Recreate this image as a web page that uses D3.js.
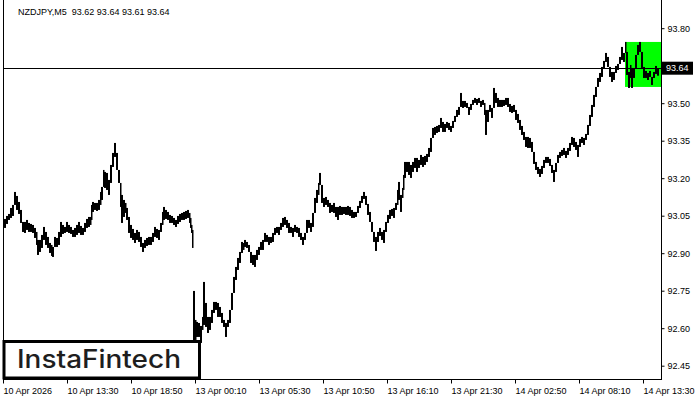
<!DOCTYPE html>
<html><head><meta charset="utf-8">
<script src="https://cdn.jsdelivr.net/npm/d3@7/dist/d3.min.js"></script>
<style>html,body{margin:0;padding:0;background:#fff;}svg{display:block;}</style>
</head><body><svg id="c" width="700" height="400"></svg>
<script>
// ---- data ----
const symbolTitle = "NZDJPY,M5  93.62 93.64 93.61 93.64";
const currentPrice = 93.64;
const yTickValues = [93.80, 93.50, 93.35, 93.20, 93.05, 92.90, 92.75, 92.60, 92.45];
const xTickIndex = [0, 64, 128, 192, 256, 320, 384, 448, 512, 576, 640];
const xTickLabels = ["10 Apr 2026","10 Apr 13:30","10 Apr 18:50","13 Apr 00:10","13 Apr 05:30","13 Apr 10:50","13 Apr 16:10","13 Apr 21:30","14 Apr 02:50","14 Apr 08:10","14 Apr 13:30"];
const sessionBreaks = [190];          // first bar after weekend gap
const zoneStartIndex = 622;           // green zone
const zoneHigh = 93.745, zoneLow = 93.565;
// [bar index, high, low]
const priceBars = [
[1,93.037,93.001],[3,93.049,93.017],[5,93.057,93.033],[7,93.081,93.041],[9,93.093,93.049],[11,93.145,93.093],[13,93.129,93.073],[15,93.105,93.057],[17,93.073,93.021],[19,93.025,92.985],
[21,93.025,92.981],[23,93.033,92.993],[25,93.021,92.985],[27,93.017,92.985],[29,93.013,92.981],[31,93.001,92.961],[33,92.985,92.933],[34,92.953,92.893],[36,92.953,92.905],[38,92.973,92.921],
[40,93.005,92.953],[42,92.985,92.933],[44,92.965,92.921],[46,92.941,92.901],[48,92.933,92.889],[49,92.925,92.885],[51,92.965,92.925],[53,92.961,92.925],[55,92.985,92.933],[57,93.025,92.965],
[59,93.013,92.977],[61,93.005,92.981],[63,93.025,92.985],[65,93.013,92.981],[67,93.005,92.977],[69,92.993,92.965],[71,93.001,92.965],[73,93.013,92.973],[75,93.025,92.981],[77,93.009,92.973],
[79,93.001,92.973],[81,93.021,92.985],[83,93.037,93.001],[85,93.045,93.005],[87,93.045,93.013],[88,93.093,93.033],[89,93.105,93.065],[91,93.101,93.073],[93,93.101,93.069],[95,93.113,93.073],
[97,93.145,93.093],[98,93.165,93.113],[100,93.233,93.173],[101,93.225,93.161],[103,93.221,93.153],[105,93.193,93.133],[107,93.253,93.181],[109,93.301,93.245],[111,93.341,93.285],[113,93.301,93.233],
[115,93.233,93.181],[117,93.181,93.085],[118,93.133,93.021],[120,93.113,93.045],[122,93.101,93.061],[123,93.081,93.033],[125,93.045,92.981],[127,93.013,92.961],[129,92.997,92.953],[131,92.981,92.941],
[133,92.993,92.953],[135,92.985,92.945],[137,92.965,92.925],[139,92.941,92.905],[141,92.953,92.921],[143,92.961,92.929],[145,92.965,92.933],[147,92.965,92.933],[149,92.981,92.945],[151,93.005,92.965],
[153,92.997,92.961],[155,92.993,92.953],[157,93.021,92.985],[159,93.065,93.013],[160,93.085,93.033],[162,93.073,93.037],[164,93.065,93.033],[166,93.053,93.021],[168,93.049,93.021],[170,93.041,93.013],
[172,93.033,93.005],[174,93.049,93.017],[176,93.057,93.025],[178,93.061,93.033],[180,93.065,93.033],[182,93.069,93.037],[184,93.073,93.041],[186,93.061,93.021],[187,93.041,93.001],[188,93.013,92.981],
[189,92.993,92.921],
[190,92.749,92.533],[192,92.633,92.553],[193,92.625,92.565],[195,92.621,92.565],[197,92.609,92.541],[199,92.645,92.593],[200,92.785,92.613],[202,92.701,92.605],[204,92.645,92.581],[206,92.645,92.593],
[208,92.673,92.621],[210,92.705,92.661],[212,92.705,92.673],[214,92.701,92.645],[216,92.685,92.645],[218,92.661,92.621],[220,92.633,92.605],[222,92.621,92.565],[224,92.633,92.605],[226,92.673,92.621],
[228,92.741,92.673],[230,92.805,92.745],[232,92.845,92.793],[234,92.881,92.833],[236,92.905,92.861],[238,92.945,92.901],[240,92.941,92.913],[241,92.953,92.925],[243,92.945,92.921],[245,92.933,92.905],
[247,92.901,92.861],[249,92.893,92.853],[251,92.893,92.845],[253,92.913,92.873],[255,92.925,92.893],[257,92.945,92.913],[259,92.953,92.913],[261,92.981,92.945],[263,92.973,92.945],[265,92.965,92.933],
[267,92.965,92.941],[269,92.981,92.945],[271,93.001,92.973],[273,93.005,92.981],[275,93.005,92.973],[277,93.021,92.993],[279,93.041,93.005],[281,93.045,93.013],[283,93.033,93.001],[285,93.021,92.981],
[287,93.005,92.981],[289,93.001,92.965],[291,93.013,92.985],[293,93.005,92.981],[295,93.001,92.965],[297,92.981,92.953],[299,92.965,92.933],[301,92.981,92.953],[303,93.033,93.001],[305,93.033,93.001],
[307,93.021,92.985],[309,93.061,93.005],[311,93.121,93.073],[313,93.153,93.101],[315,93.181,93.133],[316,93.221,93.173],[318,93.161,93.101],[320,93.121,93.085],[322,93.125,93.093],[324,93.113,93.085],
[326,93.101,93.061],[328,93.093,93.065],[330,93.101,93.061],[332,93.085,93.045],[334,93.085,93.033],[336,93.089,93.053],[338,93.085,93.053],[340,93.085,93.057],[342,93.085,93.053],[344,93.089,93.053],
[346,93.085,93.049],[348,93.073,93.041],[350,93.065,93.041],[352,93.065,93.045],[354,93.089,93.061],[356,93.109,93.081],[358,93.129,93.101],[360,93.145,93.117],[362,93.129,93.093],[364,93.097,93.053],
[366,93.065,93.025],[368,93.025,92.985],[370,92.985,92.945],[372,92.965,92.909],[374,92.985,92.945],[376,93.001,92.969],[378,92.985,92.953],[380,92.993,92.941],[382,93.025,92.985],[384,93.053,93.021],
[386,93.073,93.037],[388,93.077,93.049],[390,93.081,93.041],[392,93.101,93.073],[394,93.153,93.093],[395,93.185,93.113],[397,93.133,93.065],[399,93.161,93.121],[400,93.213,93.153],[401,93.265,93.201],
[403,93.265,93.225],[405,93.265,93.213],[407,93.253,93.201],[409,93.265,93.225],[411,93.281,93.241],[413,93.281,93.225],[415,93.273,93.241],[417,93.293,93.253],[419,93.285,93.245],[421,93.289,93.253],
[423,93.297,93.265],[425,93.321,93.285],[427,93.361,93.305],[429,93.401,93.361],[431,93.405,93.373],[433,93.409,93.381],[435,93.413,93.385],[437,93.441,93.401],[439,93.425,93.385],[441,93.417,93.385],
[443,93.425,93.401],[445,93.421,93.393],[447,93.409,93.385],[449,93.429,93.401],[451,93.449,93.425],[453,93.473,93.445],[455,93.485,93.453],[457,93.541,93.485],[459,93.509,93.481],[461,93.509,93.485],
[463,93.501,93.481],[465,93.485,93.453],[467,93.497,93.473],[469,93.513,93.493],[471,93.521,93.501],[473,93.517,93.493],[475,93.521,93.501],[477,93.509,93.485],[479,93.513,93.493],[481,93.501,93.453],
[482,93.473,93.373],[484,93.473,93.425],[486,93.493,93.465],[488,93.481,93.441],[490,93.561,93.513],[492,93.541,93.501],[494,93.521,93.485],[496,93.513,93.485],[498,93.513,93.485],[500,93.513,93.489],
[502,93.521,93.493],[504,93.521,93.485],[506,93.497,93.465],[508,93.489,93.461],[510,93.493,93.465],[512,93.473,93.433],[514,93.457,93.421],[516,93.433,93.393],[518,93.409,93.373],[520,93.385,93.353],
[522,93.365,93.325],[524,93.365,93.321],[526,93.361,93.321],[528,93.345,93.305],[530,93.305,93.257],[532,93.265,93.233],[534,93.245,93.217],[536,93.237,93.205],[538,93.249,93.217],[540,93.273,93.241],
[542,93.285,93.261],[544,93.285,93.261],[546,93.277,93.249],[548,93.253,93.221],[550,93.233,93.185],[552,93.261,93.225],[554,93.293,93.261],[556,93.305,93.281],[558,93.313,93.289],[560,93.321,93.293],
[562,93.309,93.281],[564,93.321,93.293],[566,93.341,93.309],[568,93.365,93.333],[570,93.361,93.325],[572,93.345,93.313],[574,93.333,93.285],[576,93.357,93.325],[578,93.365,93.341],[580,93.361,93.333],
[582,93.377,93.353],[584,93.413,93.373],[586,93.453,93.409],[588,93.493,93.445],[590,93.533,93.485],[592,93.565,93.525],[594,93.601,93.569],[596,93.621,93.585],[598,93.645,93.605],[600,93.669,93.637],
[602,93.701,93.665],[604,93.685,93.645],[606,93.645,93.605],[608,93.625,93.585],[610,93.625,93.593],[612,93.649,93.621],[614,93.657,93.633],[616,93.685,93.657],[618,93.725,93.673],[620,93.701,93.665],
[622,93.745,93.705],[623,93.693,93.613],[625,93.625,93.561],[627,93.653,93.601],[628,93.641,93.561],[630,93.641,93.601],[632,93.693,93.645],[634,93.733,93.693],[636,93.745,93.705],[638,93.689,93.641],
[640,93.645,93.601],[642,93.629,93.601],[644,93.621,93.593],[646,93.629,93.605],[648,93.605,93.573],[650,93.625,93.601],[652,93.649,93.617],[654,93.64,93.61]
];

// ---- drawing ----
const svg = d3.select("#c");
const plotLeft = 3, plotRight = 661, plotBottom = 379;
const x = d3.scaleLinear().domain([0, 658]).range([plotLeft, plotRight]);
const y = d3.scaleLinear().domain([92.45, 93.80]).range([365.7, 28.2]);

const FONT = "'Liberation Sans', Arial, sans-serif";

// green zone
svg.append("rect")
  .attr("x", x(zoneStartIndex)).attr("y", y(zoneHigh))
  .attr("width", plotRight - x(zoneStartIndex)).attr("height", y(zoneLow) - y(zoneHigh))
  .attr("fill", "#00ff00");

// price bars
const gBars = svg.append("g").attr("fill", "#000");
priceBars.forEach((b, k) => {
  let top = y(b[1]), bot = y(b[2]);
  if (k > 0 && !sessionBreaks.includes(b[0])) {
    const pTop = y(priceBars[k-1][1]), pBot = y(priceBars[k-1][2]);
    if (bot < pTop) bot = pTop;
    if (top > pBot) top = pBot;
  }
  if (bot - top < 2) bot = top + 2;
  const next = k < priceBars.length - 1 ? priceBars[k+1][0] : b[0] + 2;
  const w = Math.max(1.5, x(next) - x(b[0]));
  gBars.append("rect").attr("x", x(b[0])).attr("y", top).attr("width", w).attr("height", bot - top);
});

// current price line
svg.append("line").attr("x1", plotLeft).attr("x2", plotRight)
  .attr("y1", Math.round(y(currentPrice)) + 0.5).attr("y2", Math.round(y(currentPrice)) + 0.5)
  .attr("stroke", "#000").attr("stroke-width", 1);

// frame
svg.append("line").attr("x1", plotLeft + 0.5).attr("x2", plotLeft + 0.5).attr("y1", 0).attr("y2", plotBottom + 0.5).attr("stroke", "#000");
svg.append("line").attr("x1", plotLeft).attr("x2", plotRight + 1).attr("y1", plotBottom + 0.5).attr("y2", plotBottom + 0.5).attr("stroke", "#000");
svg.append("line").attr("x1", plotRight + 0.5).attr("x2", plotRight + 0.5).attr("y1", 0).attr("y2", plotBottom + 1).attr("stroke", "#000");

// right axis
const yAxis = d3.axisRight(y).tickValues(yTickValues).tickFormat(d3.format(".2f")).tickSize(3).tickPadding(3);
const gy = svg.append("g").attr("transform", `translate(${plotRight + 0.5},0)`).call(yAxis);
gy.select(".domain").remove();
gy.selectAll("text").attr("font-family", FONT).attr("font-size", 9).attr("fill", "#000");
gy.selectAll("line").attr("stroke", "#000");

// bottom axis
const xAxis = d3.axisBottom(x).tickValues(xTickIndex).tickFormat((d, i) => xTickLabels[i]).tickSize(4).tickSizeOuter(0);
const gx = svg.append("g").attr("transform", `translate(0,${plotBottom + 0.5})`).call(xAxis);
gx.select(".domain").remove();
gx.selectAll("text").attr("font-family", FONT).attr("font-size", 9).attr("fill", "#000")
  .attr("text-anchor", "start").attr("x", 0).attr("y", 8).attr("dy", "0.71em");
gx.selectAll("line").attr("stroke", "#000");

// current price label
const py = y(currentPrice);
svg.append("rect").attr("x", plotRight + 1).attr("y", py - 6.5).attr("width", 31).attr("height", 13).attr("fill", "#000");
svg.append("text").attr("x", plotRight + 5).attr("y", py).attr("dy", "0.35em")
  .attr("font-family", FONT).attr("font-size", 9).attr("fill", "#fff").text(d3.format(".2f")(currentPrice));

// title
svg.append("text").attr("x", 18).attr("y", 15).attr("font-family", FONT).attr("font-size", 9).attr("fill", "#000")
  .attr("xml:space", "preserve").style("white-space", "pre").text(symbolTitle);

// logo
svg.append("rect").attr("x", 4).attr("y", 341.5).attr("width", 195.5).attr("height", 36.5)
  .attr("fill", "#fff").attr("stroke", "#000").attr("stroke-width", 3);
svg.append("text").attr("x", 17).attr("y", 368).attr("font-family", "Inter, Lato, sans-serif")
  .attr("font-weight", 500).attr("font-size", 25).attr("fill", "#1e1e1e")
  .attr("textLength", 164).attr("lengthAdjust", "spacingAndGlyphs").text("InstaFintech");
</script></body></html>
